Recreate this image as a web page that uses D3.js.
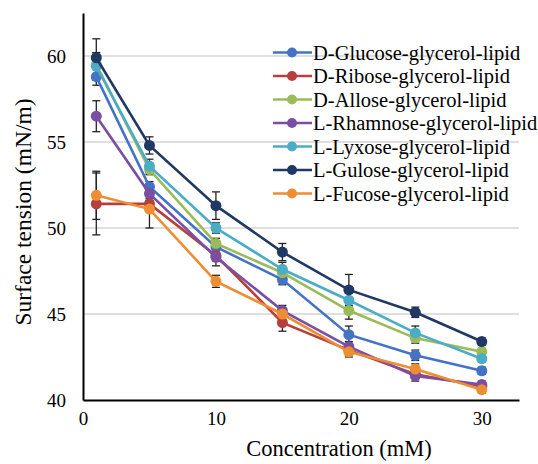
<!DOCTYPE html>
<html><head><meta charset="utf-8">
<script src="https://cdn.jsdelivr.net/npm/d3@7"></script>
<style>body{margin:0;background:#fff}svg{display:block}</style>
</head><body><svg id="c" width="538" height="464"></svg>
<script>
const concentrations = [1, 5, 10, 15, 20, 25, 30];
const seriesNames = ["D-Glucose-glycerol-lipid","D-Ribose-glycerol-lipid","D-Allose-glycerol-lipid","L-Rhamnose-glycerol-lipid","L-Lyxose-glycerol-lipid","L-Gulose-glycerol-lipid","L-Fucose-glycerol-lipid"];
const seriesColors = ["#4472C4","#B5403D","#9BBB59","#7A4FA3","#4BACC6","#203864","#ED8E33"];
const glucose  = [58.8, 52.4, 48.9, 47.0, 43.8, 42.6, 41.7];
const ribose   = [51.4, 51.4, 48.4, 44.5, 42.9, 41.5, 40.8];
const allose   = [59.5, 53.4, 49.1, 47.4, 45.2, 43.6, 42.8];
const rhamnose = [56.5, 52.0, 48.3, 45.2, 43.1, 41.4, 40.9];
const lyxose   = [59.4, 53.6, 50.0, 47.6, 45.8, 43.9, 42.4];
const gulose   = [59.9, 54.8, 51.3, 48.6, 46.4, 45.1, 43.4];
const fucose   = [51.9, 51.1, 46.9, 45.0, 42.8, 41.8, 40.6];
const glucoseErr  = [0.5, 0.3, 0.3, 0.3, 0.5, 0.3, 0.2];
const riboseErr   = [1.8, 0.3, 0.3, 0.5, 0.3, 0.2, 0.2];
const alloseErr   = [0.6, 0.3, 0.3, 0.3, 0.5, 0.3, 0.2];
const rhamnoseErr = [0.9, 0.4, 0.5, 0.3, 0.3, 0.3, 0.2];
const lyxoseErr   = [0.8, 0.4, 0.3, 0.4, 0.4, 0.4, 0.2];
const guloseErr   = [1.1, 0.5, 0.8, 0.5, 0.9, 0.3, 0.2];
const fucoseErr   = [1.4, 1.1, 0.35, 0.3, 0.3, 0.3, 0.2];
const yTicks = [40, 45, 50, 55, 60];
const xTicks = [0, 10, 20, 30];

const FONT = "'Liberation Serif', 'Times New Roman', Times, 'DejaVu Serif', serif";
const values = [glucose, ribose, allose, rhamnose, lyxose, gulose, fucose];
const errs = [glucoseErr, riboseErr, alloseErr, rhamnoseErr, lyxoseErr, guloseErr, fucoseErr];
const series = seriesNames.map((n,i)=>({name:n,color:seriesColors[i],pts:concentrations.map((c,j)=>({x:c,y:values[i][j],e:errs[i][j]}))}));

const svg = d3.select("#c");
const x = d3.scaleLinear().domain([0, 32.8]).range([83, 519]);
const y = d3.scaleLinear().domain([40, 62.5]).range([400, 13]);

// gridlines
svg.append("g").selectAll("line").data(yTicks.filter(t=>t>40)).join("line")
  .attr("x1",x(0)).attr("x2",x(32.8)).attr("y1",d=>y(d)).attr("y2",d=>y(d))
  .attr("stroke","#d4d4d4").attr("stroke-width",1.5);

// axes
const xa = svg.append("g").attr("transform",`translate(0,${y(40)})`)
  .call(d3.axisBottom(x).tickValues(xTicks).tickSize(0).tickPadding(12));
const ya = svg.append("g").attr("transform",`translate(${x(0)},0)`)
  .call(d3.axisLeft(y).tickValues(yTicks).tickSize(0).tickPadding(17));
[xa,ya].forEach(a=>{a.attr("font-family",null).attr("font-size",null);
  a.select(".domain").attr("stroke","#000").attr("stroke-width",2);
  a.selectAll("text").style("font-family",FONT).style("font-size","19px").attr("fill","#000");});

// error bars
const eb = svg.append("g");
series.forEach(s=>{
  s.pts.forEach(p=>{
    const cx = x(p.x);
    eb.append("line").attr("x1",cx).attr("x2",cx).attr("y1",y(p.y-p.e)).attr("y2",y(p.y+p.e)).attr("stroke","#222").attr("stroke-width",1.3);
    [p.y-p.e,p.y+p.e].forEach(v=>eb.append("line").attr("x1",cx-4).attr("x2",cx+4).attr("y1",y(v)).attr("y2",y(v)).attr("stroke","#222").attr("stroke-width",1.3));
  });
});

// lines and markers
const line = d3.line().x(d=>x(d.x)).y(d=>y(d.y));
series.forEach(s=>{
  const g = svg.append("g");
  g.append("path").datum(s.pts).attr("d",line).attr("fill","none").attr("stroke",s.color).attr("stroke-width",2.6);
  g.selectAll("circle").data(s.pts).join("circle").attr("cx",d=>x(d.x)).attr("cy",d=>y(d.y)).attr("r",5.5).attr("fill",s.color);
});

// legend
const lg = svg.append("g");
series.forEach((s,i)=>{
  const cy = 52.5 + i*23.5;
  lg.append("line").attr("x1",273).attr("x2",312).attr("y1",cy).attr("y2",cy).attr("stroke",s.color).attr("stroke-width",2.6);
  lg.append("circle").attr("cx",292).attr("cy",cy).attr("r",5).attr("fill",s.color);
  lg.append("text").attr("x",313).attr("y",cy).attr("dy","0.35em").style("font-family",FONT).style("font-size","20.5px").text(s.name);
});

// titles
svg.append("text").attr("x",339).attr("y",456).attr("text-anchor","middle").style("font-family",FONT).style("font-size","22.5px").text("Concentration (mM)");
svg.append("text").attr("transform","translate(31,212) rotate(-90)").attr("text-anchor","middle").style("font-family",FONT).style("font-size","23.5px").text("Surface tension (mN/m)");
</script></body></html>
